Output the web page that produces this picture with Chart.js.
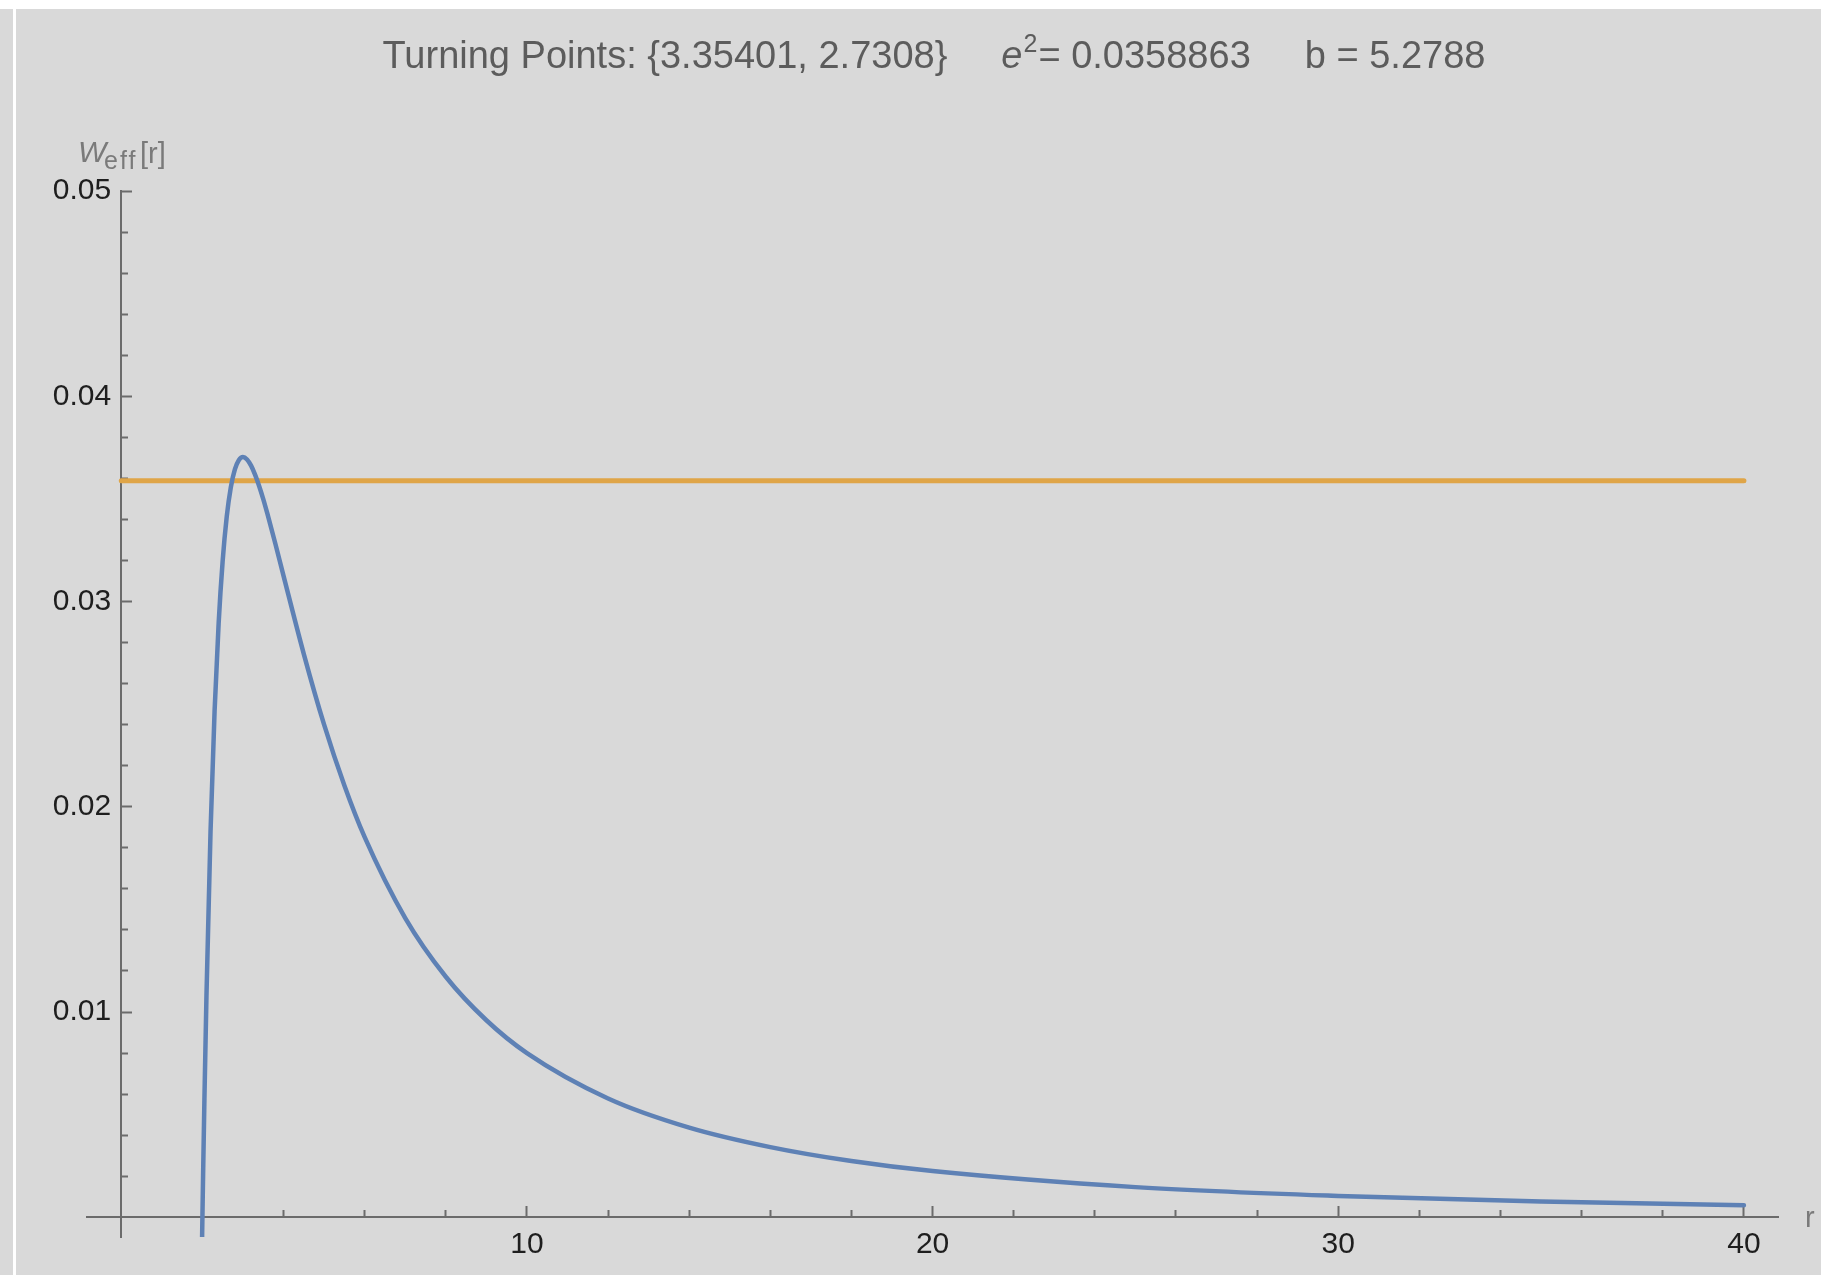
<!DOCTYPE html>
<html>
<head>
<meta charset="utf-8">
<title>Effective potential</title>
<script src="https://cdn.jsdelivr.net/npm/chart.js@4.4.1/dist/chart.umd.min.js"></script>
<style>
  html, body { margin: 0; padding: 0; background: #ffffff; }
  #wrap { position: relative; width: 1821px; height: 1275px; }
</style>
</head>
<body>
<div id="wrap"><canvas id="chart"></canvas></div>
<script>
// Effective potential W_eff(r) sampled along the radius
const rValues = [1.98, 2.0, 2.02, 2.05, 2.1, 2.2, 2.3, 2.4, 2.5, 2.6, 2.7, 2.8, 2.9, 3.0, 3.1, 3.2, 3.3,
                 3.4, 3.5, 3.6, 3.8, 4.0, 4.5, 5.0, 5.5, 6.0, 7.0, 8.0, 9.0, 10, 12, 14, 16, 18, 20,
                 25, 30, 35, 40];
const wValues = [-0.00258, 0.0, 0.00243, 0.00580, 0.01080, 0.01878, 0.02466, 0.02894, 0.03200, 0.03414,
                 0.03556, 0.03644, 0.03690, 0.03704, 0.03692, 0.03662, 0.03617, 0.03562, 0.03499,
                 0.03429, 0.03280, 0.03125, 0.02744, 0.02400, 0.02104, 0.01852, 0.01458, 0.01172,
                 0.00960, 0.00800, 0.00579, 0.00437, 0.00342, 0.00274, 0.00225, 0.00147, 0.00104,
                 0.00077, 0.00059];

// Energy level and orbit parameters
const energySquared = 0.0358863;
const impactParameter = 5.2788;
const turningPoints = [3.35401, 2.7308];
const levelR = [0, 40];

// Axis ticks
const xMajorTicks = [10, 20, 30, 40];
const xMinorTicks = [2, 4, 6, 8, 12, 14, 16, 18, 22, 24, 26, 28, 32, 34, 36, 38];
const yMajorTicks = [0.01, 0.02, 0.03, 0.04, 0.05];
const yMinorTicks = [0.002, 0.004, 0.006, 0.008, 0.012, 0.014, 0.016, 0.018, 0.022, 0.024, 0.026,
                     0.028, 0.032, 0.034, 0.036, 0.038, 0.042, 0.044, 0.046, 0.048];

const FONT = "'Liberation Sans', Arial, sans-serif";
const AXIS_COLOR = '#6b6b6b';
const X_RANGE = { min: -0.845, max: 40.84 };
const Y_RANGE = { min: -0.00096, max: 0.05 };

const potentialPoints = rValues.map((r, i) => ({ x: r, y: wValues[i] }));
const levelPoints = levelR.map(r => ({ x: r, y: energySquared }));

const useTicks = list => scale => { scale.ticks = list.map(v => ({ value: v })); };
const noPadding = scale => {
  scale.paddingTop = 0; scale.paddingBottom = 0; scale.paddingLeft = 0; scale.paddingRight = 0;
};

// Axis line + tick marks that sit on the crossing axis (ticks point inwards)
function tickAxis(range, crossAt, ticks, length, withBorder) {
  return {
    type: 'linear', min: range.min, max: range.max,
    position: crossAt,
    afterBuildTicks: useTicks(ticks),
    afterFit: noPadding,
    border: { display: withBorder, color: AXIS_COLOR, width: 2 },
    grid: { display: true, drawOnChartArea: false, drawTicks: true, tickLength: -length,
            tickColor: AXIS_COLOR, tickWidth: 2 },
    ticks: { display: false, autoSkip: false }
  };
}

// Page backdrop: grey panel with thin white frame strips
const backdrop = {
  id: 'backdrop',
  beforeDraw(chart) {
    const ctx = chart.ctx;
    ctx.save();
    ctx.fillStyle = '#d9d9d9';
    ctx.fillRect(0, 0, chart.width, chart.height);
    ctx.fillStyle = '#ffffff';
    ctx.fillRect(0, 0, chart.width, 9);
    ctx.fillRect(13, 0, 3, chart.height);
    ctx.restore();
  }
};

// Heading with turning points, e^2 and b; axis names
const annotations = {
  id: 'annotations',
  afterDraw(chart) {
    const ctx = chart.ctx;
    ctx.save();
    ctx.textBaseline = 'alphabetic';
    ctx.textAlign = 'left';
    ctx.fillStyle = '#5c5c5c';

    const base = 68;
    const gap = 54;
    const main = '38px ' + FONT;
    const ital = 'italic 38px ' + FONT;
    const sup = '25px ' + FONT;
    const part1 = 'Turning Points: {' + turningPoints[0] + ', ' + turningPoints[1] + '}';
    const part2 = '= ' + energySquared;
    const part3 = 'b = ' + impactParameter;
    const w = (font, s) => { ctx.font = font; return ctx.measureText(s).width; };
    const w1 = w(main, part1), we = w(ital, 'e'), ws = w(sup, '2'), w2 = w(main, part2), w3 = w(main, part3);
    const total = w1 + gap + we + 1 + ws + 1 + w2 + gap + w3;
    let x = 934 - total / 2;
    ctx.font = main; ctx.fillText(part1, x, base); x += w1 + gap;
    ctx.font = ital; ctx.fillText('e', x, base); x += we + 1;
    ctx.font = sup; ctx.fillText('2', x, base - 16); x += ws + 1;
    ctx.font = main; ctx.fillText(part2, x, base); x += w2 + gap;
    ctx.fillText(part3, x, base);

    // vertical axis name W_eff[r]
    ctx.fillStyle = '#7a7a7a';
    ctx.font = 'italic 30px ' + FONT; ctx.fillText('W', 78, 162);
    ctx.font = '25px ' + FONT;
    ctx.letterSpacing = '2px';
    ctx.fillText('eff', 104, 169);
    ctx.letterSpacing = '0px';
    ctx.font = '29px ' + FONT; ctx.fillText('[r]', 140, 163);

    // horizontal axis name r
    ctx.font = '29px ' + FONT;
    ctx.fillText('r', 1805, 1227);
    ctx.restore();
  }
};

new Chart(document.getElementById('chart'), {
  type: 'line',
  data: {
    datasets: [
      {
        label: 'W_eff',
        data: potentialPoints,
        borderColor: '#5e81b5',
        borderWidth: 4.5,
        borderCapStyle: 'round',
        pointRadius: 0,
        cubicInterpolationMode: 'monotone',
        fill: false,
        clip: 0
      },
      {
        label: 'e^2',
        data: levelPoints,
        borderColor: '#dfa548',
        borderWidth: 5,
        borderCapStyle: 'round',
        pointRadius: 0,
        fill: false,
        clip: 0
      }
    ]
  },
  options: {
    responsive: true,
    maintainAspectRatio: false,
    animation: false,
    events: [],
    parsing: false,
    layout: { padding: { left: 87, right: 43, top: 191, bottom: 38 } },
    plugins: { legend: { display: false }, title: { display: false }, tooltip: { enabled: false } },
    scales: {
      x: {
        type: 'linear', min: X_RANGE.min, max: X_RANGE.max,
        position: { y: 0 },
        afterBuildTicks: useTicks(xMajorTicks),
        afterFit: noPadding,
        border: { display: true, color: AXIS_COLOR, width: 2 },
        grid: { display: true, drawOnChartArea: false, drawTicks: true, tickLength: -12,
                tickColor: AXIS_COLOR, tickWidth: 2 },
        ticks: { display: true, autoSkip: false, maxRotation: 0, padding: 21, color: '#1e1e1e',
                 font: { family: FONT, size: 30 }, callback: v => String(v) }
      },
      xMinor: tickAxis(X_RANGE, { y: 0 }, xMinorTicks, 7, false),
      y: tickAxis(Y_RANGE, { x: 0 }, yMajorTicks, 12, true),
      yMinor: tickAxis(Y_RANGE, { x: 0 }, yMinorTicks, 7, false),
      yLabels: {
        type: 'linear', min: Y_RANGE.min, max: Y_RANGE.max,
        position: { x: -0.25 },
        afterBuildTicks: useTicks(yMajorTicks),
        afterFit: noPadding,
        border: { display: false },
        grid: { display: false },
        ticks: { display: true, autoSkip: false, color: '#1e1e1e',
                 font: { family: FONT, size: 30 }, callback: v => v.toFixed(2) }
      }
    }
  },
  plugins: [backdrop, annotations]
});
</script>
</body>
</html>
